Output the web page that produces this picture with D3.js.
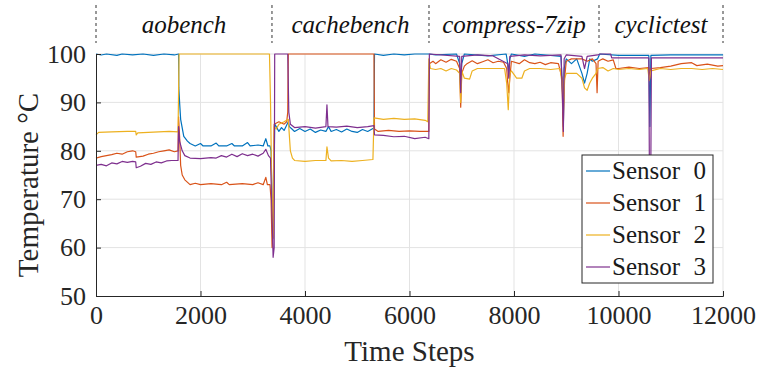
<!DOCTYPE html>
<html>
<head>
<meta charset="utf-8">
<script src="https://cdn.jsdelivr.net/npm/d3@7"></script>
<style>
  body { margin: 0; background: #fff; }
  svg { display: block; }
</style>
</head>
<body>
<svg id="chart" width="760" height="369"></svg>
<script>
// ---- data ----
const benchmarks = ["aobench", "cachebench", "compress-7zip", "cyclictest"];
const benchBounds = [0, 3368, 6373, 9627, 12000];
const xTicks = [0, 2000, 4000, 6000, 8000, 10000, 12000];
const yTicks = [50, 60, 70, 80, 90, 100];
const sensorNames = ["Sensor 0", "Sensor 1", "Sensor 2", "Sensor 3"];
const sensorColors = ["#0072BD", "#D95319", "#EDB120", "#7E2F8E"];

const sensor0 = [[0,100],[100,99.8],[200,100],[400,99.7],[500,100],[700,99.8],[900,100],[1100,99.7],[1300,100],[1500,99.8],[1580,100],
  [1585,93],[1600,90],[1620,86.5],[1680,83],[1750,82],[1800,81.5],[1900,81],[2000,81.5],[2050,81],[2200,81],[2300,81.6],[2350,81],
  [2500,81],[2600,81.5],[2650,81],[2800,81],[2900,81.7],[2950,81],[3100,81.2],[3200,81],[3250,82.5],[3290,81],[3330,81],[3350,80],
  [3370,70],[3390,62],[3420,85.5],[3450,85],[3500,84],[3550,84.8],[3600,84.2],[3680,86],[3700,85],[3750,84.5],[3800,84],[3900,84.6],
  [4000,84],[4100,84.5],[4200,83.8],[4300,84.3],[4400,84],[4450,85],[4500,84],[4600,84.4],[4700,83.9],[4800,84.5],[4900,84],
  [5000,83.8],[5100,84.4],[5200,84],[5300,84.6],[5320,84.5],[5330,100],[5500,99.7],[5700,100],[5900,99.8],[6100,100],[6373,100],
  [6500,99.8],[6900,100],[6960,98],[6980,93],[7000,98],[7050,100],[7500,99.6],[7850,100],[7880,98],[7900,96],[7920,99],[7950,100],
  [8200,99.5],[8400,100],[8900,99.5],[8930,92],[8945,85],[8960,97],[9000,99],[9100,98],[9200,99],[9300,96],[9350,94],[9400,96],
  [9450,99],[9500,98.5],[9600,99],[9640,100],[10000,99.7],[10580,99.7],[10600,85],[10620,99.7],[11000,99.8],[12000,99.8]];

const sensor1 = [[0,78.5],[100,78.8],[200,79],[300,79.2],[400,79.5],[500,79.3],[600,79.8],[700,80],[760,79.8],[770,78.7],[900,78.9],
  [1000,79.3],[1100,79.5],[1200,79.8],[1300,80],[1400,80.2],[1500,79.8],[1570,80],[1580,87],[1600,83],[1620,77],[1650,75],[1700,74],
  [1800,73],[1900,73.3],[2000,73],[2200,73.2],[2400,73],[2500,73.5],[2550,73],[2800,73.2],[3000,73],[3100,73.4],[3200,73],[3250,74.5],
  [3280,73],[3330,73],[3350,70],[3370,60],[3390,63],[3410,85.5],[3500,86],[3600,85.5],[3650,86],[3670,88],[3680,100],[5320,100],
  [5330,84.5],[5400,84],[5600,84.2],[5800,84],[6000,84.1],[6200,84],[6370,84],[6380,98],[6450,98.5],[6500,98],[6600,98.8],[6700,98.3],
  [6800,98.9],[6900,98.5],[6960,97],[6980,89],[7000,96],[7050,97.5],[7100,98],[7200,98.6],[7300,98],[7400,98.4],[7500,98.8],
  [7600,98.2],[7700,98.5],[7800,98.3],[7860,97],[7880,94],[7900,92],[7920,95],[7950,98.5],[8100,98],[8200,98.8],[8300,98.2],[8400,98],
  [8500,98.3],[8600,97.8],[8700,98.2],[8850,98],[8920,95],[8940,83],[8960,94],[9000,98.5],[9100,99],[9300,99],[9400,98.5],[9500,99],
  [9570,98],[9590,92],[9610,98.5],[9700,99],[9800,98.5],[9900,98.8],[9950,97],[10000,97],[10200,97.3],[10400,97],[10580,97.2],
  [10600,95],[10620,97],[10800,97.2],[11000,97.5],[11200,98],[11400,98.2],[11500,97.6],[11700,97.9],[11900,97.5],[12000,97.6]];

const sensor2 = [[0,83.3],[50,83.8],[300,83.9],[600,84],[760,84],[770,83.3],[800,83.7],[1000,83.8],[1200,83.9],[1400,84],[1570,83.9],
  [1590,100],[3320,100],[3340,90],[3360,75],[3390,62],[3410,85],[3450,84.5],[3500,85.5],[3600,86],[3680,86.5],[3720,80],[3760,78.5],
  [3800,78],[4000,77.8],[4200,78],[4400,78],[4420,80.8],[4450,78.5],[4500,77.9],[4700,78],[4900,77.8],[5100,78],[5300,78.2],
  [5320,86.8],[5500,86.5],[5700,86.7],[5900,86.5],[6100,86.6],[6300,86.3],[6350,86],[6370,99],[6400,97],[6500,96.8],[6600,97],
  [6700,96.5],[6800,97],[6900,96.7],[6960,96],[6980,90],[7000,96.5],[7050,95],[7150,94.8],[7200,96.5],[7300,97],[7500,97],[7700,97],
  [7820,97],[7860,94],[7890,88.5],[7920,96],[7950,96.5],[8050,95],[8150,95],[8200,96.5],[8300,97],[8500,97],[8700,96.8],[8880,97],
  [8920,94],[8945,88],[8970,95],[9000,96],[9200,96],[9300,95],[9350,93],[9400,92.5],[9450,94],[9500,95],[9570,96],[9600,97],
  [9700,97.2],[9800,96.5],[9900,97],[10000,96.8],[10200,97],[10400,96.8],[10560,97],[10590,94.5],[10620,96.5],[10800,97],
  [11000,96.8],[11200,97],[11400,97],[11600,96.8],[11800,97],[12000,96.8]];

const sensor3 = [[0,77],[100,77.2],[200,76.9],[300,77.5],[400,77.3],[500,77.8],[600,77.6],[700,77.8],[760,77.7],[770,76.5],[850,76.8],
  [950,77.4],[1050,77.2],[1150,77.7],[1250,77.5],[1350,77.9],[1450,78],[1570,78],[1580,85],[1600,82],[1650,80],[1700,79],[1800,78.5],
  [2000,78.4],[2200,78.6],[2300,78.5],[2400,79],[2500,78.7],[2600,79.3],[2700,78.8],[2800,79.4],[2900,79],[3000,79.3],[3100,78.9],
  [3200,79.5],[3250,80.3],[3300,79],[3340,78.5],[3360,70],[3390,58],[3410,60],[3420,100],[3670,100],[3690,88],[3720,85.5],[3800,84.8],
  [4000,85],[4200,84.7],[4400,85],[4420,89.5],[4440,85],[4600,84.9],[4800,85.1],[5000,84.8],[5200,85],[5320,85.2],[5330,83.3],
  [5500,83.2],[5700,82.9],[5900,83],[6100,82.5],[6300,82.8],[6370,82.5],[6380,100],[6960,99.5],[6980,92],[7000,99.5],[7300,99.8],
  [7600,99.6],[7880,98],[7900,95],[7920,99.5],[8200,99.8],[8500,99.6],[8900,99.8],[8930,90],[8945,84],[8960,99],[9000,99.8],
  [9300,99.5],[9350,97],[9400,99.5],[9600,99.8],[9650,100],[9850,100],[9870,99.2],[10580,99.2],[10590,79],[10620,79],[10630,99.2],
  [12000,99.2]];

const sensors = [sensor0, sensor1, sensor2, sensor3];

const serif = "'Liberation Serif', 'DejaVu Serif', serif";

// ---- layout ----
const margin = {top: 54, right: 37, bottom: 73, left: 96};
const width = 760 - margin.left - margin.right;
const height = 369 - margin.top - margin.bottom;

const svg = d3.select("#chart");
const chart = svg.append("g").attr("transform", `translate(${margin.left},${margin.top})`);

const x = d3.scaleLinear().domain([0, 12000]).range([0, width]);
const y = d3.scaleLinear().domain([50, 100]).range([height, 0]);

// grid
chart.append("g").selectAll("line").data(xTicks.slice(1)).join("line")
  .attr("x1", d => x(d)).attr("x2", d => x(d)).attr("y1", 0).attr("y2", height)
  .attr("stroke", "#e3e3e3").attr("stroke-width", 1);
chart.append("g").selectAll("line").data(yTicks.slice(1)).join("line")
  .attr("x1", 0).attr("x2", width).attr("y1", d => y(d)).attr("y2", d => y(d))
  .attr("stroke", "#e3e3e3").attr("stroke-width", 1);

// series
const line = d3.line().x(d => x(d[0])).y(d => y(d[1]));
sensors.forEach((s, i) => {
  chart.append("path").datum(s)
    .attr("d", line)
    .attr("fill", "none")
    .attr("stroke", sensorColors[i])
    .attr("stroke-width", 1.2)
    .attr("stroke-linejoin", "round");
});

// axes
const xAxis = d3.axisBottom(x).tickValues(xTicks).tickSize(-5).tickPadding(10).tickFormat(d3.format("d"));
const yAxis = d3.axisLeft(y).tickValues(yTicks).tickSize(-5).tickPadding(10);

const xg = chart.append("g").attr("transform", `translate(0,${height})`).call(xAxis);
const yg = chart.append("g").call(yAxis);
[xg, yg].forEach(g => {
  g.attr("font-family", null).attr("font-size", null);
  g.select(".domain").attr("stroke", "#262626").attr("stroke-width", 1);
  g.selectAll(".tick line").attr("stroke", "#262626");
  g.selectAll(".tick text").style("font-size", "26px").attr("fill", "#262626");
});

// axis labels
svg.append("text")
  .attr("x", margin.left + width / 2).attr("y", 361)
  .attr("text-anchor", "middle").style("font-size", "29px").attr("fill", "#262626")
  .text("Time Steps");
svg.append("text")
  .attr("transform", `translate(38,${margin.top + height / 2 + 10}) rotate(-90)`)
  .attr("text-anchor", "middle").style("font-size", "29px").attr("fill", "#262626")
  .text("Temperature \u00B0C");

// benchmark separators + names
svg.append("g").selectAll("line").data(benchBounds).join("line")
  .attr("x1", d => margin.left + x(d)).attr("x2", d => margin.left + x(d))
  .attr("y1", 5).attr("y2", 43)
  .attr("stroke", "#333").attr("stroke-width", 1).attr("stroke-dasharray", "3,3");
svg.append("g").selectAll("text").data(benchmarks).join("text")
  .attr("x", (d, i) => margin.left + x((benchBounds[i] + benchBounds[i + 1]) / 2))
  .attr("y", 33)
  .attr("text-anchor", "middle")
  .style("font-size", "25px").style("font-style", "italic")
  .attr("fill", "#111")
  .text(d => d);

// legend
const lg = svg.append("g").attr("transform", "translate(582,155)");
lg.append("rect").attr("width", 131).attr("height", 128)
  .attr("fill", "#fff").attr("stroke", "#262626").attr("stroke-width", 1);
sensorNames.forEach((name, i) => {
  const yy = 16 + i * 32;
  lg.append("line").attr("x1", 4).attr("x2", 28).attr("y1", yy).attr("y2", yy)
    .attr("stroke", sensorColors[i]).attr("stroke-width", 1.2);
  lg.append("text").attr("x", 30).attr("y", yy + 8).style("font-size", "25px").attr("fill", "#1a1a1a")
    .text(name.split(" ")[0]);
  lg.append("text").attr("x", 124).attr("y", yy + 8).style("font-size", "25px").attr("fill", "#1a1a1a")
    .attr("text-anchor", "end").text(name.split(" ")[1]);
});

svg.selectAll("text").style("font-family", serif);
</script>
</body>
</html>
